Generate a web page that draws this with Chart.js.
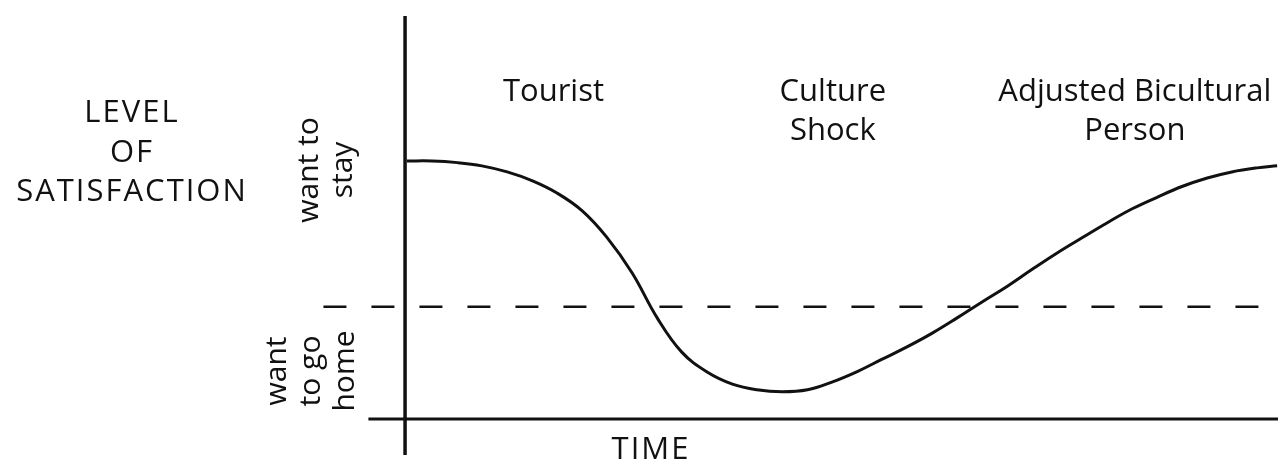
<!DOCTYPE html>
<html>
<head>
<meta charset="utf-8">
<style>
  html, body { margin: 0; padding: 0; background: #fff; }
  #wrap { width: 1278px; height: 460px; position: relative; }
</style>
<script src="https://cdn.jsdelivr.net/npm/chart.js@4"></script>
</head>
<body>
<div id="wrap"><canvas id="uCurve"></canvas></div>
<script>
// time (arbitrary units, 0 = arrival) and level of satisfaction
const timeX = [0.2, 3.1, 6.0, 8.8, 11.7, 14.6, 17.4, 20.3, 23.1, 26.0, 28.9, 31.7,
               34.6, 37.5, 40.3, 43.2, 46.1, 48.9, 51.8, 54.6, 57.5, 60.4, 63.2, 66.1,
               69.0, 71.8, 74.7, 77.6, 80.4, 83.3, 86.2, 89.0, 91.9, 94.7, 97.6, 99.9];
const satisfaction = [63.7, 63.7, 63.3, 62.5, 61.0, 58.8, 55.8, 51.4, 44.9, 36.1, 24.9, 16.5,
                      11.6, 8.6, 7.2, 6.7, 7.2, 9.1, 11.7, 14.7, 17.8, 21.2, 24.9, 28.9,
                      32.8, 36.9, 41.0, 44.8, 48.4, 51.9, 54.8, 57.4, 59.5, 61.0, 62.0, 62.5];

// the dividing line between "want to stay" and "want to go home"
const neutralLevel = 27.7;

const phases = [["Tourist"], ["Culture", "Shock"], ["Adjusted Bicultural", "Person"]];
const phaseTime = [17.0, 49.0, 83.6];
const yTitle = ["LEVEL", "OF", "SATISFACTION"];
const stayLabel = ["want to", "stay"];
const homeLabel = ["want", "to go", "home"];
const xTitle = "TIME";

const X_MIN = -9.4, X_MAX = 100, Y_MIN = -8.9, Y_MAX = 100;

const curve = timeX.map((t, i) => ({ x: t, y: satisfaction[i] }));
const neutral = [{ x: X_MIN + 0.05, y: neutralLevel }, { x: X_MAX, y: neutralLevel }];
const axisTime = [{ x: -4.2, y: 0 }, { x: X_MAX, y: 0 }];
const axisLevel = [{ x: 0, y: Y_MIN }, { x: 0, y: 99.5 }];

const INK = "#111";
const FONT = "'Open Sans', Lato, sans-serif";

const labelsPlugin = {
  id: "labels",
  afterDraw(chart) {
    const ctx = chart.ctx;
    const xs = chart.scales.x;
    ctx.save();
    ctx.fillStyle = INK;
    ctx.textAlign = "center";
    ctx.textBaseline = "alphabetic";

    // y title, horizontal, to the left (wide caps like the original)
    ctx.font = "31px " + FONT;
    ctx.letterSpacing = "2px";
    yTitle.forEach((s, i) => ctx.fillText(s, 132, 122 + i * 39.5));

    // x title under the axis
    ctx.fillText(xTitle, 651, 459);
    ctx.letterSpacing = "0px";

    // phase names above the curve
    phases.forEach((lines, i) => {
      const px = xs.getPixelForValue(phaseTime[i]);
      lines.forEach((s, j) => ctx.fillText(s, px, 101 + j * 39));
    });

    // rotated side labels
    const rotated = (lines, cy, firstBase) => {
      ctx.save();
      ctx.translate(firstBase, cy);
      ctx.rotate(-Math.PI / 2);
      lines.forEach((s, j) => ctx.fillText(s, 0, j * 34));
      ctx.restore();
    };
    ctx.font = "30px " + FONT;
    rotated(stayLabel, 170, 318);
    rotated(homeLabel, 371, 286);
    ctx.restore();
  }
};

new Chart(document.getElementById("uCurve"), {
  type: "line",
  data: {
    datasets: [
      { data: axisTime, borderColor: INK, borderWidth: 3, pointRadius: 0, tension: 0 },
      { data: axisLevel, borderColor: INK, borderWidth: 3.5, pointRadius: 0, tension: 0 },
      { data: neutral, borderColor: INK, borderWidth: 2.5, borderDash: [23, 25], pointRadius: 0, tension: 0 },
      { data: curve, borderColor: INK, borderWidth: 3, pointRadius: 0, tension: 0.4 }
    ]
  },
  options: {
    responsive: true,
    maintainAspectRatio: false,
    animation: false,
    layout: { padding: { left: 323, top: 14, right: 0, bottom: 5 } },
    plugins: { legend: { display: false }, tooltip: { enabled: false } },
    scales: {
      x: { type: "linear", min: X_MIN, max: X_MAX, display: false },
      y: { type: "linear", min: Y_MIN, max: Y_MAX, display: false }
    }
  },
  plugins: [labelsPlugin]
});
</script>
</body>
</html>
